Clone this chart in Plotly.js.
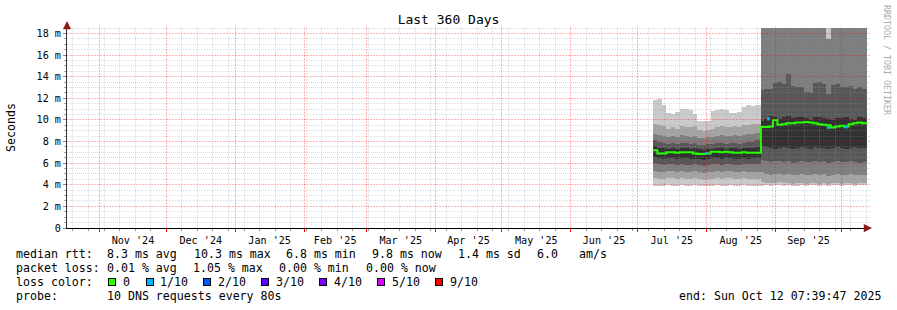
<!DOCTYPE html>
<html><head><meta charset="utf-8">
<script src="https://cdn.plot.ly/plotly-3.0.1.min.js"></script>
<style>
html,body{margin:0;padding:0;background:#fff;} #chart{width:897px;height:310px;}
#chart .shapelayer path{shape-rendering:crispEdges;}
#chart .scatterlayer .js-fill{shape-rendering:crispEdges;}
</style>
</head><body><div id="chart"></div>
<script>
// ---- data ----
const dates = ['2025-07-08','2025-07-10','2025-07-12','2025-07-14','2025-07-16','2025-07-18','2025-07-20','2025-07-22',
 '2025-07-24','2025-07-26','2025-07-28','2025-07-30','2025-08-01','2025-08-03','2025-08-05','2025-08-07','2025-08-09',
 '2025-08-11','2025-08-13','2025-08-15','2025-08-17','2025-08-19','2025-08-21','2025-08-23','2025-08-25 14:00',
 '2025-08-27','2025-08-29','2025-08-31','2025-09-02','2025-09-04','2025-09-06','2025-09-08','2025-09-10','2025-09-12',
 '2025-09-14','2025-09-16','2025-09-18','2025-09-20','2025-09-22','2025-09-24','2025-09-26','2025-09-28','2025-09-30',
 '2025-10-02','2025-10-04','2025-10-06','2025-10-08','2025-10-10','2025-10-12 07:39'];
// sorted pings (ms)
const ping10 = [11.8,11.9,11.4,10.6,10.5,10.7,11.0,11.0,10.9,10.5,9.9,9.9,9.9,10.8,10.9,11.0,10.9,10.6,10.6,10.7,11.2,11.4,11.3,11.4,
 19.5,19.6,19.4,19.5,19.7,19.5,19.6,19.4,19.5,19.6,19.5,19.4,19.6,19.5,19.5,18.6,19.4,19.5,19.6,19.5,19.4,19.6,19.5,19.5,19.5];
const ping9 = [9.6,9.5,9.4,9.2,9.3,9.2,9.4,9.3,9.3,9.4,9.1,9.0,9.1,9.2,9.3,9.4,9.3,9.3,9.4,9.3,9.5,9.5,9.6,9.6,
 19.2,19.3,19.1,19.2,19.4,19.2,19.3,19.1,19.2,19.0,19.2,19.1,19.3,19.2,19.2,17.5,19.2,19.3,19.2,19.1,19.3,19.2,19.2,19.2,19.2];
const ping8 = [8.7,8.6,8.5,8.4,8.5,8.4,8.6,8.5,8.4,8.5,8.3,8.3,8.4,8.4,8.5,8.6,8.5,8.5,8.6,8.5,8.6,8.7,8.7,8.8,
 19.0,19.1,18.9,19.0,19.2,19.0,19.1,18.9,19.0,18.9,19.0,18.9,19.1,19.0,19.0,17.5,19.0,19.1,19.0,18.9,19.1,19.0,19.0,19.0,19.0];
const ping7 = [8.1,8.0,7.9,7.8,7.9,7.8,7.9,7.9,7.8,7.9,7.7,7.7,7.8,7.8,7.9,7.9,7.8,7.9,7.9,7.8,7.9,8.0,8.0,8.1,
 12.8,12.9,12.9,13.4,13.5,13.3,14.2,13.1,13.0,13.0,12.6,12.5,13.4,13.5,13.3,12.4,13.2,13.3,13.0,13.0,13.1,12.9,13.0,12.9,12.9];
const ping6 = [7.6,7.4,7.4,7.3,7.4,7.3,7.4,7.4,7.3,7.4,7.3,7.2,7.3,7.3,7.4,7.4,7.3,7.4,7.4,7.3,7.4,7.4,7.4,7.5,
 9.9,10.1,10.4,10.3,10.1,10.3,10.4,10.2,10.3,10.3,10.2,10.0,10.3,10.3,10.2,10.1,10.0,10.2,10.2,10.3,10.1,10.0,10.3,10.2,10.2];
const ping5 = [6.6,6.5,6.4,6.5,6.5,6.4,6.5,6.5,6.4,6.4,6.4,6.3,6.4,6.5,6.5,6.4,6.5,6.5,6.4,6.4,6.5,6.4,6.5,6.5,
 7.6,7.5,7.4,7.3,7.4,7.5,7.4,7.3,7.4,7.5,7.4,7.3,7.5,7.4,7.4,7.3,7.4,7.5,7.4,7.3,7.4,7.5,7.4,7.4,7.4];
const ping4 = [6.0,5.9,5.8,5.9,5.9,5.8,5.9,5.8,5.8,5.9,5.8,5.7,5.8,5.9,5.9,5.8,5.9,5.9,5.8,5.8,5.9,5.9,5.9,5.9,
 6.3,6.2,6.1,6.2,6.2,6.1,6.2,6.0,6.1,6.2,6.1,6.1,6.2,6.1,6.2,6.0,6.1,6.2,6.1,6.1,6.2,6.1,6.0,6.1,6.1];
const ping3 = [5.3,5.2,5.2,5.3,5.3,5.2,5.3,5.2,5.2,5.3,5.2,5.1,5.2,5.2,5.3,5.2,5.3,5.3,5.2,5.2,5.3,5.2,5.2,5.2,
 5.2,5.0,4.9,5.0,5.0,4.9,5.0,4.9,4.9,5.0,4.9,4.9,5.0,4.9,5.0,4.8,4.9,5.0,4.9,4.9,5.0,4.9,4.9,4.9,4.9];
const ping2 = [4.6,4.5,4.5,4.6,4.6,4.5,4.6,4.5,4.5,4.6,4.5,4.4,4.5,4.5,4.6,4.5,4.6,4.6,4.5,4.5,4.6,4.5,4.5,4.5,
 4.3,4.2,4.2,4.2,4.3,4.2,4.2,4.1,4.2,4.2,4.1,4.2,4.2,4.1,4.2,4.1,4.2,4.2,4.1,4.2,4.2,4.1,4.2,4.2,4.2];
const ping1 = [3.9,3.9,3.9,4.0,3.9,3.9,4.0,3.9,3.9,4.0,3.9,3.9,3.9,3.9,4.0,3.9,3.9,4.0,3.9,3.9,4.0,3.9,3.9,3.9,
 3.9,3.95,3.9,3.95,3.95,3.9,3.95,3.9,3.9,3.95,3.9,3.95,3.95,3.9,3.95,3.9,3.95,3.95,3.9,3.95,3.95,3.9,3.95,3.95,3.95];
const medianRtt = [7.2,6.9,6.9,7.0,7.0,6.95,7.0,7.0,7.0,6.9,6.85,6.85,6.9,7.05,7.05,7.0,7.05,7.0,6.95,6.95,7.0,6.95,6.95,6.95,
 9.35,9.35,9.4,10.0,9.55,9.6,9.7,9.7,9.75,9.75,9.8,9.75,9.7,9.6,9.55,9.5,9.3,9.4,9.45,9.4,9.6,9.7,9.75,9.7,9.8];
const loss1Dates = ['2025-08-01','2025-08-29','2025-09-25','2025-10-03'];
const loss1Values = [6.9,10.1,9.3,9.35];

const yTickVals = [0,2,4,6,8,10,12,14,16,18];
const yTickText = ['0','2 m','4 m','6 m','8 m','10 m','12 m','14 m','16 m','18 m'];
const lossLabels = ['0','1/10','2/10','3/10','4/10','5/10','9/10'];
const lossColors = ['#26ff00','#00b8ff','#0059ff','#5e00ff','#7e00ff','#dd00ff','#ff0000'];
const smokeColors = ['#cacaca','#a4a4a4','#7e7e7e','#585858','#323232'];

// ---- geometry / style ----
const L=67, T=28, W=800, H=200;
const px = p => (p - L) / W;
const py = p => (T + H - p) / H;
const MONO = 'DejaVu Sans Mono';
const xStart = '2024-10-17 07:39:47', xEnd = '2025-10-12 07:39:47';

const pings = [ping1,ping2,ping3,ping4,ping5,ping6,ping7,ping8,ping9,ping10];
const traces = [];
for (let i = 0; i < 5; i++) {
  traces.push({x: dates, y: pings[i], type:'scatter', mode:'lines', line:{width:0, shape:'hv'}, hoverinfo:'skip'});
  traces.push({x: dates, y: pings[9-i], type:'scatter', mode:'lines', line:{width:0, shape:'hv'},
    fill:'tonexty', fillcolor: smokeColors[i], hoverinfo:'skip'});
}
traces.push({x: dates, y: medianRtt, type:'scatter', mode:'lines', line:{color: lossColors[0], width:2, shape:'hv'}});
traces.push({x: loss1Dates, y: loss1Values, type:'scatter', mode:'markers',
  marker:{color: lossColors[1], size:3, symbol:'square', line:{width:0}}});

// grid drawn above the smoke (like RRDtool)
const shapes = [];
const majorCol = 'rgba(255,0,0,0.29)', minorCol = 'rgba(150,150,150,0.33)';
const monthStarts = [];
for (let y = 2024, m = 10; !(y === 2025 && m === 10); ) {
  monthStarts.push(`${y}-${String(m+1).padStart(2,'0')}-01`);
  m++; if (m === 12) { m = 0; y++; }
}
const t1 = new Date('2025-10-12T07:39:47Z').getTime();
for (let t = new Date('2024-10-20T00:00:00Z').getTime(); t <= t1; t += 7*864e5) {
  const d = new Date(t).toISOString().slice(0,10);
  if (monthStarts.includes(d)) continue;
  shapes.push({type:'line', xref:'x', yref:'paper', x0:d, x1:d, y0:0, y1:1+2/H, layer:'above',
    line:{color:minorCol, width:1, dash:'1px,1px'}});
}
for (let v = 0.5; v <= 18.5; v += 0.5) {
  if (v % 2 === 0) continue;
  shapes.push({type:'line', xref:'paper', yref:'y', x0:0, x1:1+3/W, y0:v, y1:v, layer:'above',
    line:{color:minorCol, width:1, dash:'1px,1px'}});
}
// major lines last so they sit on top
monthStarts.forEach(d => shapes.push({type:'line', xref:'x', yref:'paper', x0:d, x1:d, y0:0, y1:1+2/H, layer:'above',
  line:{color:majorCol, width:1, dash:'2px,1px'}}));
for (let v = 2; v <= 18; v += 2) {
  shapes.push({type:'line', xref:'paper', yref:'y', x0:0, x1:1+3/W, y0:v, y1:v, layer:'above',
    line:{color:majorCol, width:1, dash:'2px,1px'}});
}

const annotations = [];
function txt(x, y, s, opt) {
  annotations.push(Object.assign({xref:'paper', yref:'paper', x: px(x), y: py(y), text: s, showarrow:false,
    xanchor:'left', yanchor:'middle', borderpad:0, font:{family:MONO, size:11.6, color:'#000'}}, opt||{}));
}
// axis arrows
annotations.push({xref:'paper', yref:'paper', x:0, y:1, ax:0, ay:7, yshift:7, text:'', showarrow:true,
  arrowhead:2, arrowsize:1.1, arrowwidth:1.5, arrowcolor:'#8b1c1c'});
annotations.push({xref:'paper', yref:'paper', x:1, y:0, ax:-5, ay:0, xshift:5, text:'', showarrow:true,
  arrowhead:2, arrowsize:1.1, arrowwidth:1.5, arrowcolor:'#8b1c1c'});
// y title
txt(11, 127, 'Seconds', {xanchor:'center', textangle:-90});
// watermark
txt(887, 60, 'RRDTOOL / TOBI OETIKER', {xanchor:'center', textangle:90, font:{family:MONO, size:8.3, color:'#aaaaaa'}});
// legend rows
const row1 = [[16,'median rtt:'],[107,'8.3 ms avg'],[193.7,'10.3 ms max'],[286,'6.8 ms min'],[372.3,'9.8 ms now'],[458.3,'1.4 ms sd'],[537.3,'6.0'],[579,'am/s']];
const row2 = [[16,'packet loss:'],[107,'0.01 % avg'],[193.3,'1.05 % max'],[279.3,'0.00 % min'],[365.7,'0.00 % now']];
row1.forEach(([x,s]) => txt(x-1, 254, s));
row2.forEach(([x,s]) => txt(x-1, 268, s));
txt(15, 282, 'loss color:');
const boxX = [108.3,145.7,203.3,261,319,377,435.3];
const labX = [123.3,160.3,218.3,276,334,391.7,450];
lossLabels.forEach((lab,i) => {
  annotations.push({xref:'paper', yref:'paper', x: px(boxX[i]), y: py(282.3), xanchor:'left', yanchor:'middle',
    text:'', showarrow:false, width:6, height:6, bgcolor: lossColors[i], bordercolor:'#000', borderwidth:1, borderpad:0});
  txt(labX[i]-1, 282, lab);
});
txt(15, 296, 'probe:');
txt(106, 296, '10 DNS requests every 80s');
txt(677.5, 296, 'end: Sun Oct 12 07:39:47 2025');

const layout = {
  width:897, height:310,
  margin:{l:L, r:897-L-W, t:T, b:310-T-H, pad:0},
  paper_bgcolor:'#ffffff', plot_bgcolor:'#ffffff',
  showlegend:false,
  font:{family:MONO, size:10.15, color:'#000'},
  title:{text:'Last 360 Days', font:{family:MONO, size:13, color:'#000'}, xref:'container', x:0.5, xanchor:'center',
    yref:'container', y:1-19/310, yanchor:'middle'},
  xaxis:{type:'date', range:[xStart, xEnd], showgrid:false, zeroline:false,
    tickmode:'linear', tick0:'2024-11-01', dtick:'M1', ticklabelmode:'period', tickformat:"%b '%y",
    ticks:'outside', ticklen:3, tickcolor:'#ff0000', tickwidth:1,
    showline:true, linecolor:'#000', linewidth:1,
    tickfont:{family:MONO, size:10.15, color:'#000'},
    minor:{tick0:'2024-10-20', dtick:7*864e5, ticks:'outside', ticklen:2, tickcolor:'#999', showgrid:false}},
  yaxis:{range:[0,18.5], showgrid:false, zeroline:false,
    tickmode:'array', tickvals:yTickVals, ticktext:yTickText,
    ticks:'outside', ticklen:3, tickcolor:'#888', tickwidth:1,
    showline:true, linecolor:'#333', linewidth:1,
    tickfont:{family:MONO, size:10.15, color:'#000'},
    minor:{tickmode:'linear', tick0:0, dtick:0.5, ticks:'outside', ticklen:2, tickcolor:'#aaa', showgrid:false}},
  shapes: shapes,
  annotations: annotations
};
Plotly.newPlot('chart', traces, layout, {staticPlot:true, displayModeBar:false});
</script>
</body></html>
